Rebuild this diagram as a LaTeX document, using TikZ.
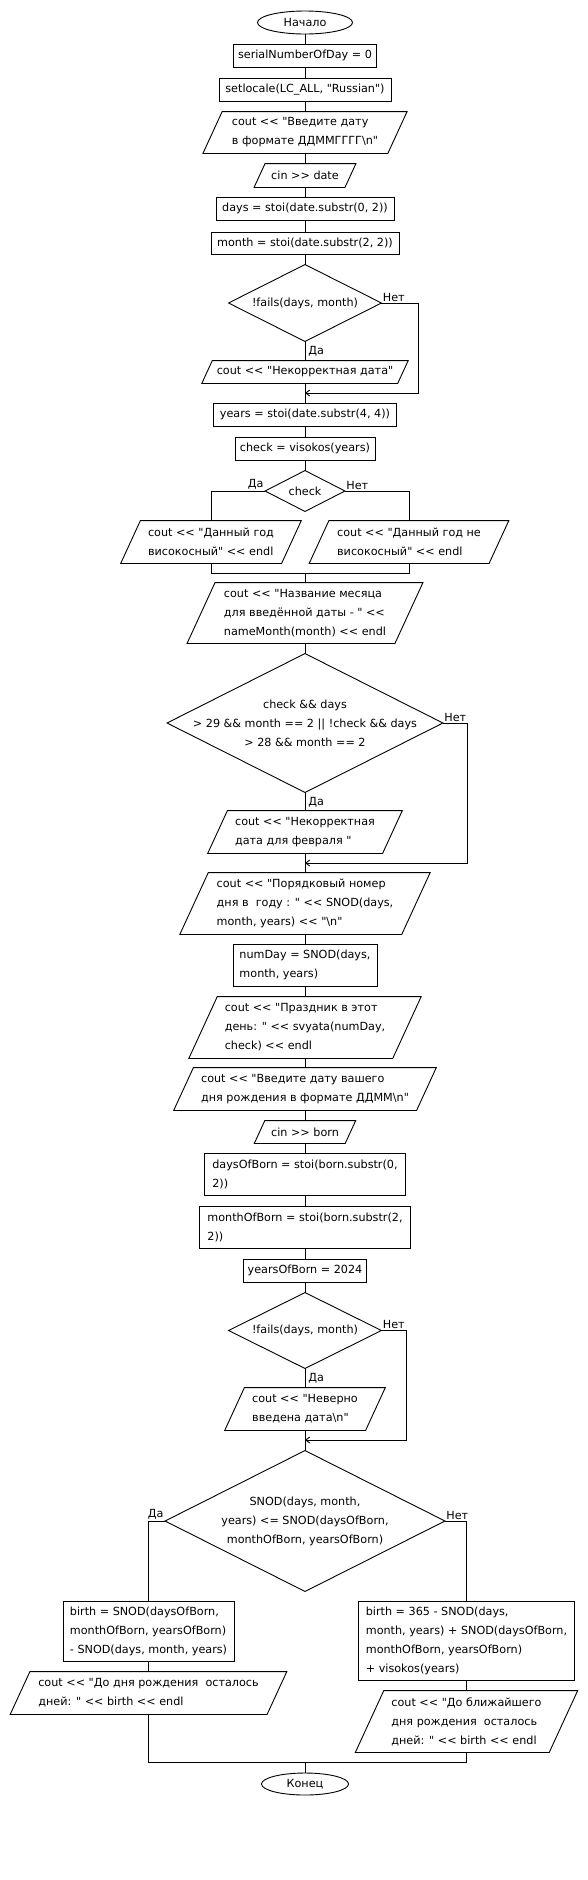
\documentclass[tikz,border=0pt]{standalone}
\usepackage{fontspec}
\newfontfamily\dvs{DejaVu Sans}
\usetikzlibrary{calc,arrows.meta,shapes.geometric}
\newcommand\paraout[1]{\draw ($(#1.north west)!0.23!90:(#1.south west)$) -- ($(#1.north east)!0.23!90:(#1.south east)$) -- ($(#1.south east)!0.23!90:(#1.north east)$) -- ($(#1.south west)!0.23!90:(#1.north west)$) -- cycle;}
\newcommand\diamout[1]{\draw (#1.north) -- (#1.east) -- (#1.south) -- (#1.west) -- cycle;}
\begin{document}
\begin{tikzpicture}[x=1pt,y=-1pt,line width=0.9pt,
  every node/.style={font=\dvs\fontsize{11.2}{19}\selectfont, inner sep=0pt},
  box/.style={rectangle, draw, align=left},
  pbox/.style={rectangle, align=left},
  dbox/.style={rectangle, align=center},
  term/.style={ellipse, draw},
  lbl/.style={inner sep=1pt},
  arr/.style={-{Straight Barb[length=4pt,width=6pt]}}]
\fill[white] (0,0) rectangle (588,1880);
\useasboundingbox (0,0) rectangle (588,1880);

\node[term, minimum width=95, minimum height=23] (start) at (305,22.5) {Начало};
\node[box, minimum width=143, minimum height=23] (b1) at (305,55.5) {serialNumberOfDay = 0};
\node[box, minimum width=172, minimum height=23] (b2) at (305,89.5) {setlocale(LC\_ALL, "Russian")};
\node[pbox, minimum width=184, minimum height=41] (p1) at (305,132.5) {cout << "Введите дату\\в формате ДДММГГГГ\textbackslash n"};
\node[pbox, minimum width=90, minimum height=23] (p2) at (305,175.5) {cin >> date};
\node[box, minimum width=178, minimum height=23] (b3) at (305,208.5) {days = stoi(date.substr(0, 2))};
\node[box, minimum width=188, minimum height=22] (b4) at (305,243) {month = stoi(date.substr(2, 2))};
\node[dbox, minimum width=152, minimum height=76] (d1) at (305,303) {!fails(days, month)};
\node[pbox, minimum width=195, minimum height=22] (p3) at (305,372) {cout << "Некорректная дата"};
\coordinate (m1) at (305,393);
\node[box, minimum width=183, minimum height=23] (b5) at (305,414.5) {years = stoi(date.substr(4, 4))};
\node[box, minimum width=140, minimum height=23] (b6) at (305,448.5) {check = visokos(years)};
\node[dbox, minimum width=79, minimum height=40] (d2) at (305,491) {check};
\node[pbox, minimum width=160, minimum height=42] (p4) at (211,542) {cout << "Данный год\\високосный" << endl};
\node[pbox, minimum width=179, minimum height=42] (p5) at (409,542) {cout << "Данный год не\\високосный" << endl};
\coordinate (m2) at (305,573);
\node[pbox, minimum width=207, minimum height=60] (p6) at (305,613) {cout << "Название месяца\\для введённой даты - " <<\\nameMonth(month) << endl};
\node[dbox, minimum width=275, minimum height=138] (d3) at (305,723) {check \&\& days\\> 29 \&\& month == 2 || !check \&\& days\\> 28 \&\& month == 2};
\node[pbox, minimum width=174, minimum height=42] (p7) at (305,832) {cout << "Некорректная\\дата для февраля "};
\coordinate (m3) at (305,863);
\node[pbox, minimum width=221, minimum height=61] (p8) at (305,903.5) {cout << "Порядковый номер\\дня в\ \ году : " << SNOD(days,\\month, years) << "\textbackslash n"};
\node[box, minimum width=144, minimum height=42] (b7) at (305,965) {numDay = SNOD(days,\\month, years)};
\node[pbox, minimum width=203, minimum height=61] (p9) at (305,1027.5) {cout << "Праздник в этот\\день: " << svyata(numDay,\\check) << endl};
\node[pbox, minimum width=242, minimum height=42] (p10) at (305,1089) {cout << "Введите дату вашего\\дня рождения в формате ДДММ\textbackslash n"};
\node[pbox, minimum width=90, minimum height=22] (p11) at (305,1132) {cin >> born};
\node[box, minimum width=201, minimum height=42] (b8) at (305,1174) {daysOfBorn = stoi(born.substr(0,\\2))};
\node[box, minimum width=211, minimum height=42] (b9) at (305,1227) {monthOfBorn = stoi(born.substr(2,\\2))};
\node[box, minimum width=123, minimum height=23] (b10) at (305,1270.5) {yearsOfBorn = 2024};
\node[dbox, minimum width=152, minimum height=75] (d4) at (305,1330.5) {!fails(days, month)};
\node[pbox, minimum width=140, minimum height=42] (p12) at (305,1409) {cout << "Неверно\\введена дата\textbackslash n"};
\coordinate (m4) at (305,1440);
\node[dbox, minimum width=279, minimum height=140] (d5) at (305,1521) {SNOD(days, month,\\years) <= SNOD(daysOfBorn,\\monthOfBorn, yearsOfBorn)};
\node[box, minimum width=171, minimum height=60] (b11) at (148.5,1631) {birth = SNOD(daysOfBorn,\\monthOfBorn, yearsOfBorn)\\- SNOD(days, month, years)};
\node[pbox, minimum width=256, minimum height=42] (p13) at (148.5,1693) {cout << "До дня рождения\ \ осталось\\дней: " << birth << endl};
\node[box, minimum width=216, minimum height=79] (b12) at (466.5,1640.5) {birth = 365 - SNOD(days,\\month, years) + SNOD(daysOfBorn,\\monthOfBorn, yearsOfBorn)\\+ visokos(years)};
\node[pbox, minimum width=193, minimum height=61] (p14) at (466.5,1721.5) {cout << "До ближайшего\\дня рождения\ \ осталось\\дней: " << birth << endl};
\coordinate (m5) at (305,1762);
\node[term, minimum width=87, minimum height=22] (end) at (305,1784) {Конец};

\foreach \n in {p1,p2,p3,p4,p5,p6,p7,p8,p9,p10,p11,p12,p13,p14} {\paraout{\n}}
\foreach \n in {d1,d2,d3,d4,d5} {\diamout{\n}}

\foreach \a/\b in {start/b1,b1/b2,b2/p1,p1/p2,p2/b3,b3/b4,b4/d1,d1/p3,p3/b5,b5/b6,b6/d2,p6/d3,d3/p7,p7/p8,p8/b7,b7/p9,p9/p10,p10/p11,p11/b8,b8/b9,b9/b10,b10/d4,d4/p12,p12/d5,b11/p13,b12/p14}
  {\draw (\a.south) -- (\b.north);}

\draw[arr] (d1.east) -- ++(37,0) |- (m1);
\draw[arr] (d3.east) -- ++(24,0) |- (m3);
\draw[arr] (d4.east) -- ++(25,0) |- (m4);
\draw (d2.west) -| (p4.north);
\draw (d2.east) -| (p5.north);
\draw (p4.south) |- (m2) -| (p5.south);
\draw (m2) -- (p6.north);
\draw (d5.west) -| (b11.north);
\draw (d5.east) -| (b12.north);
\draw (p13.south) |- (m5) -| (p14.south);
\draw (m5) -- (end.north);

\node[lbl, anchor=south west] (l1) at (d1.east) {Нет};
\node[lbl, anchor=north west, xshift=2pt, yshift=-3pt] (l2) at (d1.south) {Да};
\node[lbl, anchor=south east] (l3) at (d2.west) {Да};
\node[lbl, anchor=south west] (l4) at (d2.east) {Нет};
\node[lbl, anchor=south west] (l5) at (d3.east) {Нет};
\node[lbl, anchor=north west, xshift=2pt, yshift=-3pt] (l6) at (d3.south) {Да};
\node[lbl, anchor=south west] (l7) at (d4.east) {Нет};
\node[lbl, anchor=north west, xshift=2pt, yshift=-3pt] (l8) at (d4.south) {Да};
\node[lbl, anchor=south east] (l9) at (d5.west) {Да};
\node[lbl, anchor=south west] (l10) at (d5.east) {Нет};
\end{tikzpicture}
\end{document}
